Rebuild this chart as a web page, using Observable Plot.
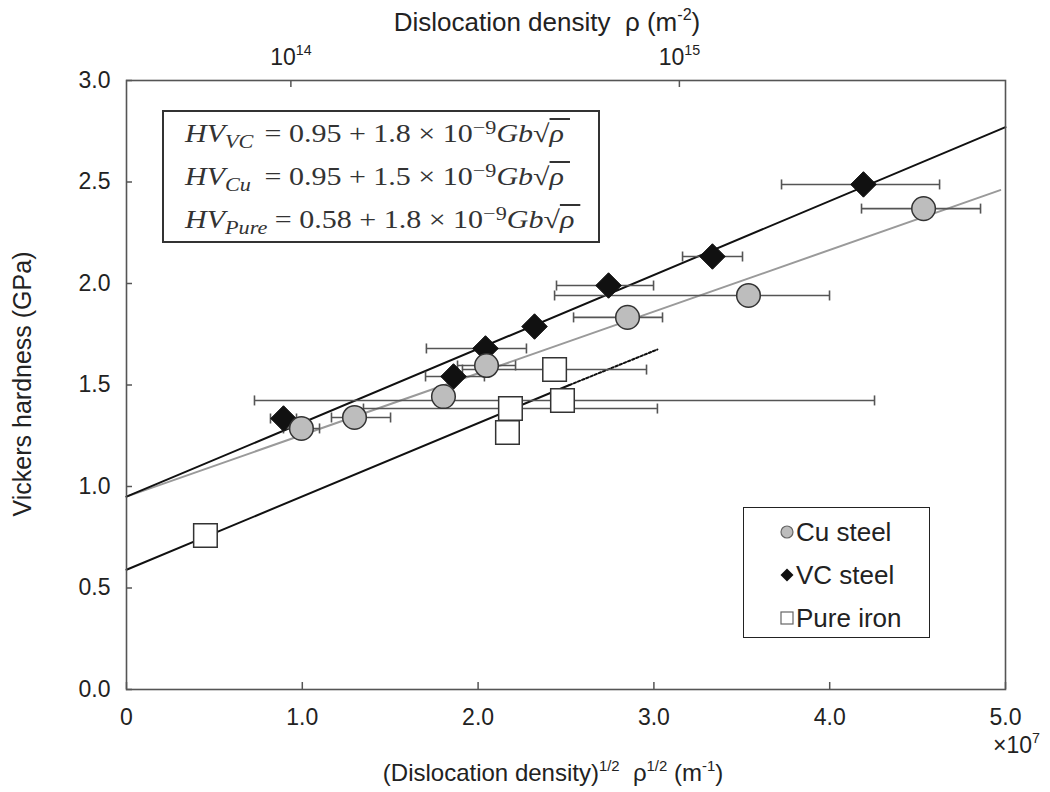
<!DOCTYPE html>
<html>
<head>
<meta charset="utf-8">
<script src="https://cdn.jsdelivr.net/npm/d3@7"></script>
<script src="https://cdn.jsdelivr.net/npm/@observablehq/plot@0.6"></script>
<style>
  html, body { margin: 0; padding: 0; background: #fff; }
  #wrap { position: relative; width: 1050px; height: 792px; font-family: "Liberation Sans", Arial, sans-serif; color: #222; }
  #wrap svg text { white-space: pre; }
  #eq { position: absolute; left: 162px; top: 110px; width: 434px; height: 129px; border: 2px solid #333; background: #fff;
        font-family: "Liberation Serif", "Times New Roman", serif; font-size: 25px; color: #333; }
  #eq .row { position: absolute; left: 21px; height: 30px; line-height: 30px; white-space: nowrap;
             transform: scaleX(1.2); transform-origin: 0 50%; }
  #eq .hv { display: inline-block; min-width: 60px; font-style: italic; }
  #eq .sub { font-size: 0.74em; position: relative; top: 0.3em; font-style: italic; }
  #eq .sup { font-size: 0.74em; position: relative; top: -0.45em; }
  #eq i { font-style: italic; }
  #eq .ov { text-decoration: overline; font-style: italic; }
  #legend { position: absolute; left: 743px; top: 507px; width: 185px; height: 129px; border: 1.5px solid #222; background: #fff; font-size: 26px; }
  #legend .item { position: absolute; left: 36px; height: 30px; line-height: 30px; white-space: nowrap; }
  #legend svg { vertical-align: middle; margin-right: 2px; position: relative; top: -2px; }
</style>
</head>
<body>
<div id="wrap"></div>
<script>
// ---------- data ----------
const seriesNames = ["Cu steel", "VC steel", "Pure iron"];

const cuX    = [0.995, 1.297, 1.803, 2.048, 2.850, 3.538, 4.534];
const cuY    = [1.286, 1.340, 1.443, 1.596, 1.833, 1.941, 2.369];
const cuXmin = [0.893, 1.166, null,  1.883, 2.543, 2.435, 4.181];
const cuXmax = [1.098, 1.502, null,  2.213, 3.049, 3.999, 4.858];

const vcX    = [0.893, 1.860, 2.042, 2.321, 2.742, 3.333, 4.192];
const vcY    = [1.335, 1.542, 1.680, 1.788, 1.990, 2.133, 2.488];
const vcXmin = [0.819, 1.701, 1.706, null,  2.446, 3.163, 3.726];
const vcXmax = [0.967, 2.036, 2.275, null,  2.998, 3.504, 4.625];

const pureX    = [0.449, 2.167, 2.184, 2.480, 2.435];
const pureY    = [0.759, 1.266, 1.384, 1.424, 1.576];
const pureXmin = [null,  null,  1.348, 0.728, 1.911];
const pureXmax = [null,  null,  3.020, 4.255, 2.958];

// fitted lines (end points)
const vcLineX = [0, 5.0],     vcLineY = [0.95, 2.77];
const cuLineX = [0, 4.97],    cuLineY = [0.95, 2.46];
const pureLineX = [0, 2.52],  pureLineY = [0.59, 1.50];
const pureDotX = [2.52, 3.02], pureDotY = [1.50, 1.675];

// ticks
const xTicks = [0, 1, 2, 3, 4, 5];
const xTickLabels = ["0", "1.0", "2.0", "3.0", "4.0", "5.0"];
const yTicks = [0, 0.5, 1, 1.5, 2, 2.5, 3];
const topTickX = [0.935, 3.145];
const topTickLabels = ["10^{14}", "10^{15}"];

// equation box content
const eqSubs = ["VC", "Cu", "Pure"];
const eqIntercepts = ["0.95", "0.95", "0.58"];
const eqSlopes = ["1.8", "1.5", "1.8"];

// ---------- build tables ----------
const toRows = (xs, ys, lo, hi) => xs.map((x, i) => ({x, y: ys[i], x1: lo[i], x2: hi[i]}));
const cu = toRows(cuX, cuY, cuXmin, cuXmax);
const vc = toRows(vcX, vcY, vcXmin, vcXmax);
const pure = toRows(pureX, pureY, pureXmin, pureXmax);
const bars = [...vc, ...cu, ...pure].filter(d => d.x1 != null);
const line = (xs, ys) => xs.map((x, i) => ({x, y: ys[i]}));

const capSymbol = { draw(ctx) { ctx.moveTo(0, -5); ctx.lineTo(0, 5); } };
const ERR = "#555";
const T = {textAnchor: "middle", lineAnchor: "middle", fill: "#222"};

const plot = Plot.plot({
  width: 1050, height: 792,
  marginLeft: 126, marginRight: 45, marginTop: 80, marginBottom: 103,
  x: {domain: [0, 5]},
  y: {domain: [0, 3]},
  style: {fontFamily: "'Liberation Sans', Arial, sans-serif", fontSize: "23px", color: "#222", background: "#fff"},
  marks: [
    // fit lines
    Plot.line(line(cuLineX, cuLineY), {x: "x", y: "y", stroke: "#9a9a9a", strokeWidth: 2}),
    Plot.line(line(vcLineX, vcLineY), {x: "x", y: "y", stroke: "#111", strokeWidth: 2}),
    Plot.line(line(pureLineX, pureLineY), {x: "x", y: "y", stroke: "#111", strokeWidth: 2}),
    Plot.line(line(pureDotX, pureDotY), {x: "x", y: "y", stroke: "#111", strokeWidth: 2, strokeDasharray: "2.5,2"}),
    // error bars
    Plot.ruleY(bars, {y: "y", x1: "x1", x2: "x2", stroke: ERR, strokeWidth: 1.6}),
    Plot.dot(bars, {x: "x1", y: "y", symbol: capSymbol, r: 5, stroke: ERR, strokeWidth: 1.6}),
    Plot.dot(bars, {x: "x2", y: "y", symbol: capSymbol, r: 5, stroke: ERR, strokeWidth: 1.6}),
    // points
    Plot.dot(vc, {x: "x", y: "y", symbol: "diamond2", r: 11.5, fill: "#111", stroke: "#111", strokeWidth: 1}),
    Plot.dot(cu, {x: "x", y: "y", symbol: "circle", r: 11.8, fill: "#bdbdbd", stroke: "#333", strokeWidth: 1.5}),
    Plot.dot(pure, {x: "x", y: "y", symbol: "square", r: 13.3, fill: "#fff", stroke: "#333", strokeWidth: 1.5}),
    // frame
    Plot.frame({stroke: "#555", strokeWidth: 1.6}),
    // axes: inward ticks
    Plot.axisY(yTicks, {tickSize: 6, dx: 6, tickFormat: () => "", label: null, stroke: "#555", strokeWidth: 1.5}),
    Plot.axisY(yTicks, {tickSize: 0, tickPadding: 16, tickFormat: d => d.toFixed(1), label: null, fontSize: 23, fill: "#222"}),
    Plot.axisX(xTicks, {tickSize: 7, dy: -7, tickFormat: () => "", label: null, stroke: "#555", strokeWidth: 1.5}),
    Plot.axisX(xTicks, {tickSize: 0, tickPadding: 19, tickFormat: (d, i) => xTickLabels[i], label: null, fontSize: 23, fill: "#222"}),
    Plot.axisX(topTickX, {anchor: "top", tickSize: 6, dy: 6, tickFormat: () => "", label: null, stroke: "#555", strokeWidth: 1.5}),
    Plot.text(topTickX.map((x, i) => ({x, t: topTickLabels[i]})), {x: "x", text: "t", frameAnchor: "top", dy: -23, fontSize: 23, ...T}),
    // titles
    Plot.text(["Dislocation density  ρ (m^{-2})"], {frameAnchor: "top", dx: -19, dy: -58, fontSize: 26, ...T}),
    Plot.text(["(Dislocation density)^{1/2}  ρ^{1/2} (m^{-1})"], {frameAnchor: "bottom", dx: -13, dy: 84, fontSize: 24, ...T}),
    Plot.text(["×10^{7}"], {frameAnchor: "bottom-right", dx: 11, dy: 56, fontSize: 23, ...T}),
    Plot.text(["Vickers hardness (GPa)"], {frameAnchor: "left", dx: -104, dy: -1, rotate: -90, fontSize: 25, ...T})
  ]
});

const wrap = document.getElementById("wrap");
wrap.appendChild(plot);

// superscripts: "^{...}" -> raised smaller tspan
d3.select(plot).selectAll("text").each(function() {
  const s = this.textContent;
  if (!s.includes("^{")) return;
  const fs = parseFloat(getComputedStyle(this).fontSize) || 22;
  const sup = fs * 0.62, rise = fs * 0.42;
  const sel = d3.select(this);
  sel.text(null);
  let raised = false;
  for (const p of s.split(/(\^\{[^}]*\})/)) {
    if (!p) continue;
    const m = p.match(/^\^\{(.*)\}$/);
    const ts = sel.append("tspan");
    if (m) {
      ts.text(m[1]).attr("font-size", sup).attr("dy", raised ? 0 : -rise);
      raised = true;
    } else {
      ts.text(p).attr("dy", raised ? rise : 0);
      raised = false;
    }
  }
});

// equation box
const eq = document.createElement("div");
eq.id = "eq";
const rowTop = [7, 50, 93];
eq.innerHTML = eqSubs.map((sub, i) =>
  `<div class="row" style="top:${rowTop[i]}px"><span class="hv">HV<span class="sub">${sub}</span></span>` +
  ` = ${eqIntercepts[i]} + ${eqSlopes[i]} × 10<span class="sup">−9</span><i>Gb</i>√<span class="ov">ρ&thinsp;</span></div>`
).join("");
wrap.appendChild(eq);

// legend
const leg = document.createElement("div");
leg.id = "legend";
const legSym = [
  `<svg width="14" height="14"><circle cx="7" cy="7" r="6" fill="#bdbdbd" stroke="#666" stroke-width="1.2"/></svg>`,
  `<svg width="14" height="14"><path d="M7,0.5L13.5,7L7,13.5L0.5,7Z" fill="#111"/></svg>`,
  `<svg width="14" height="14"><rect x="1" y="1" width="12" height="12" fill="#fff" stroke="#666" stroke-width="1.2"/></svg>`
];
leg.innerHTML = seriesNames.map((n, i) =>
  `<div class="item" style="top:${9 + i * 43}px">${legSym[i]}${n}</div>`
).join("");
wrap.appendChild(leg);
</script>
</body>
</html>
